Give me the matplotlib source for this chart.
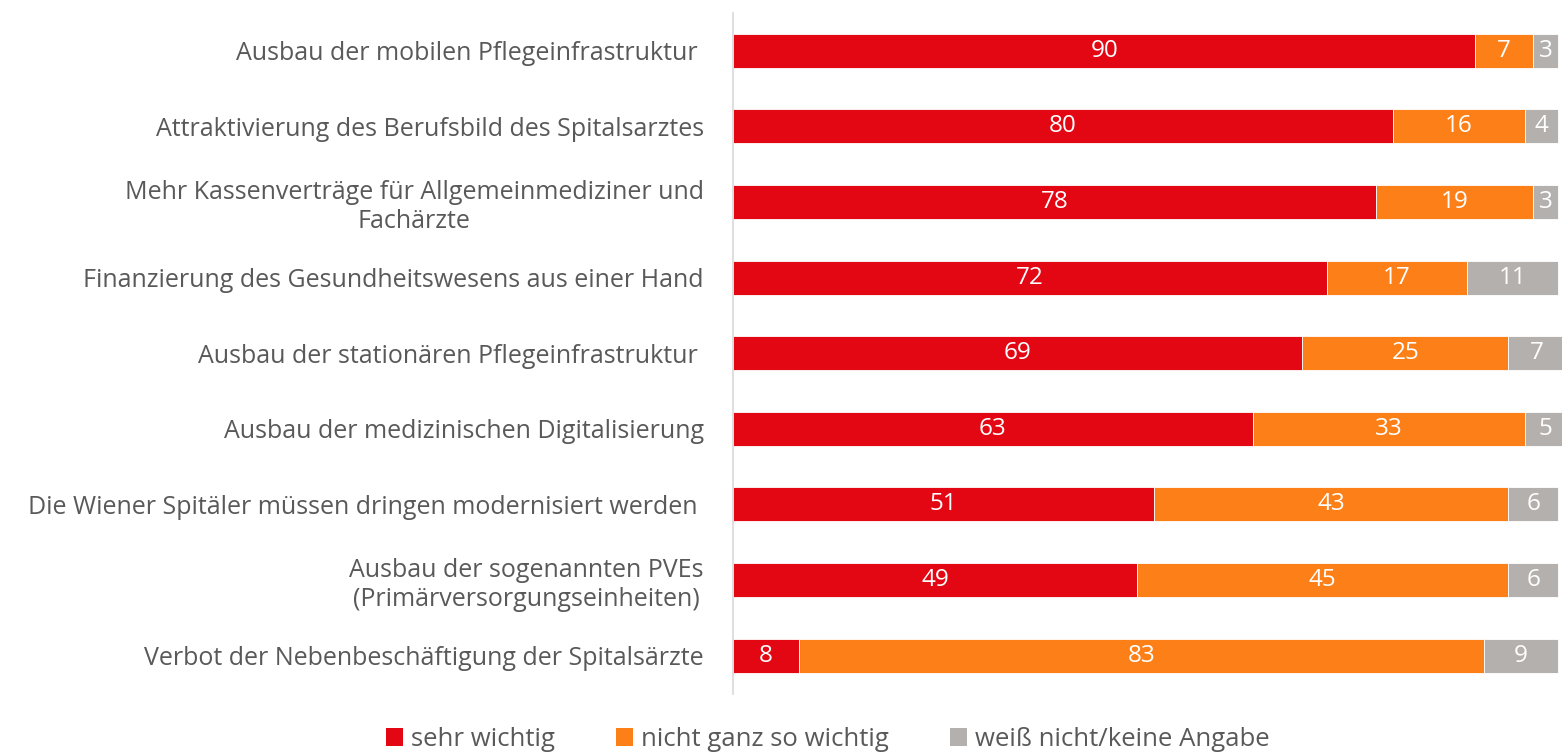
import matplotlib

matplotlib.use("Agg")

import matplotlib.pyplot as plt
import numpy as np
from matplotlib.patches import Patch

categories = [
    "Ausbau der mobilen Pflegeinfrastruktur ",
    "Attraktivierung des Berufsbild des Spitalsarztes",
    "Mehr Kassenverträge für Allgemeinmediziner und\nFachärzte",
    "Finanzierung des Gesundheitswesens aus einer Hand",
    "Ausbau der stationären Pflegeinfrastruktur ",
    "Ausbau der medizinischen Digitalisierung",
    "Die Wiener Spitäler müssen dringen modernisiert werden ",
    "Ausbau der sogenannten PVEs\n(Primärversorgungseinheiten)",
    "Verbot der Nebenbeschäftigung der Spitalsärzte",
]
sehr_wichtig = [90, 80, 78, 72, 69, 63, 51, 49, 8]
nicht_ganz = [7, 16, 19, 17, 25, 33, 43, 45, 83]
weiss_nicht = [3, 4, 3, 11, 7, 5, 6, 6, 9]

series_names = ["sehr wichtig", "nicht ganz so wichtig", "weiß nicht/keine Angabe"]
colors = ["#e30613", "#fd7f17", "#b4b0ae"]

plt.rcParams["font.family"] = ["Open Sans", "DejaVu Sans"]

fig = plt.figure(figsize=(15.62, 7.53), dpi=100)
ax = fig.add_axes([0.4693, 0.079, 0.5307, 0.904])

y = np.arange(len(categories))
left = np.zeros(len(categories))
for vals, col in zip([sehr_wichtig, nicht_ganz, weiss_nicht], colors):
    vals = np.array(vals, dtype=float)
    ax.barh(y, vals, left=left, height=0.45, color=col, edgecolor="white", linewidth=0.6)
    for yi, l, v in zip(y, left, vals):
        ax.text(l + v / 2, yi, f"{v:.0f}", ha="center", va="center",
                color="white", fontsize=17.5)
    left += vals

ax.set_xlim(0, 100.5)
ax.set_ylim(len(categories) - 0.5, -0.5)
ax.set_yticks(y)
ax.set_yticklabels(categories, fontsize=18, color="#595959",
                   multialignment="center", linespacing=1.2)
ax.tick_params(axis="y", length=0, pad=21)
ax.set_xticks([])
for side in ["top", "right", "bottom"]:
    ax.spines[side].set_visible(False)
ax.spines["left"].set_color("#d9d9d9")
ax.spines["left"].set_linewidth(1.2)

handles = [Patch(facecolor=c, label=n) for c, n in zip(colors, series_names)]
fig.legend(handles=handles, loc="center", bbox_to_anchor=(0.530, 0.018), ncol=3,
           frameon=False, fontsize=18.5, handlelength=0.66, handleheight=0.66,
           handletextpad=0.3, columnspacing=2.4, labelcolor="#595959",
           borderpad=0, borderaxespad=0)

fig.savefig("out.png", dpi=100)
plt.close(fig)
